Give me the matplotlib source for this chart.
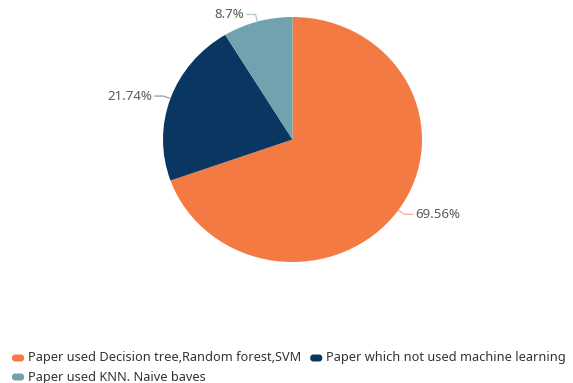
import numpy as np
import matplotlib
matplotlib.use("Agg")
import matplotlib.pyplot as plt
from matplotlib.patches import FancyBboxPatch

categories = ["Paper used Decision tree,Random forest,SVM",
              "Paper which not used machine learning",
              "Paper used KNN. Naive baves"]
values = [69.56, 21.74, 8.7]
labels = ["69.56%", "21.74%", "8.7%"]
colors = ["#F47A44", "#0A3761", "#72A2AE"]
line_colors = ["#F6B59A", "#9AA8B8", "#B4CDD3"]

W, H = 573, 383
FONT = "Noto Sans"
TEXT_COLOR = "#5A5A5A"

fig = plt.figure(figsize=(W / 100, H / 100), dpi=100)
ax = fig.add_axes([0, 0, 1, 1])

cx, cy = 292.5, 139.5
rx, ry = 129.5, 122.5

wedges, _ = ax.pie(values, colors=colors, startangle=90, counterclock=False,
                   radius=1, center=(0, 0), wedgeprops=dict(linewidth=0))
ax.set_aspect("auto")
ax.set_xlim(-cx / rx, (W - cx) / rx)
ax.set_ylim(-(H - cy) / ry, cy / ry)
ax.axis("off")

px_x = 1 / rx
for w, lab, lc in zip(wedges, labels, line_colors):
    mid = np.deg2rad((w.theta1 + w.theta2) / 2)
    x0, y0 = np.cos(mid), np.sin(mid)
    x1, y1 = 1.06 * x0, 1.06 * y0
    side = 1 if x0 >= 0 else -1
    x2 = x1 + side * 9 * px_x
    ax.plot([x0, x1, x2], [y0, y1, y1], color=lc, lw=1, solid_capstyle="butt")
    ax.text(x2 + side * 2 * px_x, y1, lab, ha="left" if side > 0 else "right",
            va="center", fontsize=9.5, family=FONT, color=TEXT_COLOR)

# legend
lax = fig.add_axes([0, 0, 1, 1])
lax.set_xlim(0, W)
lax.set_ylim(H, 0)
lax.axis("off")
lax.patch.set_alpha(0)

fig.canvas.draw()
renderer = fig.canvas.get_renderer()

def item(x, y, color, text):
    lax.add_patch(FancyBboxPatch((x, y - 3.5), 12, 7,
                                 boxstyle="round,pad=0,rounding_size=3",
                                 fc=color, ec="none"))
    t = lax.text(x + 16, y, text, fontsize=9.2, family=FONT,
                 color="#333333", va="center", ha="left")
    bb = t.get_window_extent(renderer)
    return x + 16 + bb.width

end = item(12, 358, colors[0], categories[0])
item(end + 9, 358, colors[1], categories[1])
item(12, 377, colors[2], categories[2])

fig.savefig("out.png", dpi=100)
